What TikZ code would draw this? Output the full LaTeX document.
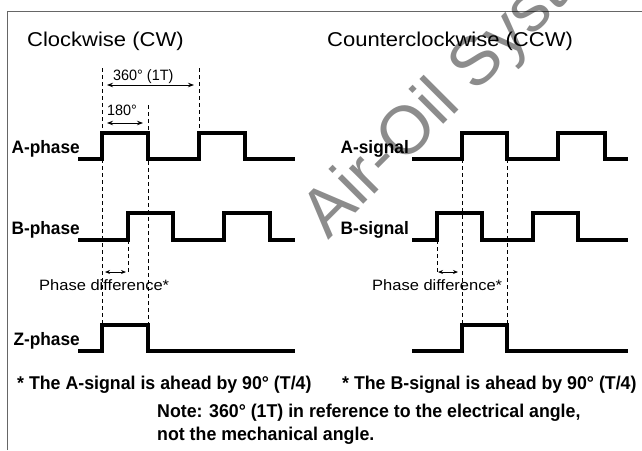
\documentclass[tikz,border=0pt]{standalone}
\usepackage{fontspec}
\setmainfont{Liberation Sans}
\newfontfamily\headfont[FakeStretch=1.1]{Liberation Sans}
\newfontfamily\condfont[FakeStretch=0.96]{Liberation Sans}
\usetikzlibrary{arrows.meta,positioning}

\begin{document}
\begin{tikzpicture}[x=1pt, y=-1pt, >={Stealth[length=6pt,width=4.5pt]},
    wave/.style={line width=4pt, line join=miter},
    guide/.style={line width=0.9pt, dash pattern=on 4pt off 3pt},
    dim/.style={<->, line width=0.9pt},
    heading/.style={inner sep=0pt, anchor=base west, font=\headfont\fontsize{20}{24}\selectfont},
    sig/.style={inner sep=0pt, anchor=base east, font=\condfont\bfseries\fontsize{18}{22}\selectfont},
    angle/.style={inner sep=0pt, anchor=base west, font=\condfont\fontsize{15}{18}\selectfont},
    diff/.style={inner sep=0pt, anchor=base west, font=\headfont\fontsize{15}{18}\selectfont},
    foot/.style={inner sep=0pt, anchor=base west, font=\condfont\bfseries\fontsize{18.5}{22}\selectfont}]
    \useasboundingbox (0,0) rectangle (642,450);
    \draw[black!60, line width=1.4pt] (7.5,450) -- (7.5,11.5) -- (642,11.5);

    % titles
    \node[heading] (cw) at (27,46) {Clockwise (CW)};
    \node[heading] (ccw) at (327,46) {Counterclockwise (CCW)};

    % signal names
    \node[sig] (aphase) at (80,153) {A-phase};
    \node[sig] (bphase) at (80,234) {B-phase};
    \node[sig] (zphase) at (80,345) {Z-phase};
    \node[sig] (asig) at (409,153) {A-signal};
    \node[sig] (bsig) at (409,234) {B-signal};

    % clockwise pulses
    \draw[wave] (78,159) -- (102,159) -- (102,133) -- (148,133) -- (148,159) -- (199,159)
        -- (199,133) -- (245,133) -- (245,159) -- (295,159);
    \draw[wave] (78,240) -- (128,240) -- (128,213) -- (173,213) -- (173,240) -- (224,240)
        -- (224,213) -- (270,213) -- (270,240) -- (295,240);
    \draw[wave] (78,351) -- (102,351) -- (102,325) -- (148,325) -- (148,351) -- (295,351);

    % counterclockwise pulses
    \draw[wave] (412,159) -- (462,159) -- (462,133) -- (507,133) -- (507,159) -- (558,159)
        -- (558,133) -- (605,133) -- (605,159) -- (628,159);
    \draw[wave] (412,240) -- (437,240) -- (437,213) -- (482,213) -- (482,240) -- (533,240)
        -- (533,213) -- (578,213) -- (578,240) -- (628,240);
    \draw[wave] (412,351) -- (462,351) -- (462,325) -- (507,325) -- (507,351) -- (628,351);

    % guides
    \draw[guide] (102,68) -- (102,325);
    \draw[guide] (148,105) -- (148,325);
    \draw[guide] (199,68) -- (199,133);
    \draw[guide] (128,240) -- (128,273);
    \draw[guide] (462,159) -- (462,325);
    \draw[guide] (507,159) -- (507,325);
    \draw[guide] (437,240) -- (437,273);

    % angles
    \node[angle] (full) at (113,80) {360° (1T)};
    \node[angle] (half) at (107,115) {180°};
    \coordinate (f1) at (107,85);
    \coordinate (f2) at (194,85);
    \coordinate (h1) at (107,123);
    \coordinate (h2) at (143,123);
    \draw[dim] (f1) -- (f2);
    \draw[dim] (h1) -- (h2);

    % phase difference
    \coordinate (d1) at (105,272);
    \coordinate (d2) at (126,272);
    \coordinate (e1) at (438,272);
    \coordinate (e2) at (458,272);
    \draw[dim, >={Stealth[length=5pt,width=4pt]}] (d1) -- (d2);
    \draw[dim, >={Stealth[length=5pt,width=4pt]}] (e1) -- (e2);
    \node[diff] (cwdiff) at (39,290) {Phase difference*};
    \node[diff] (ccwdiff) at (372,290) {Phase difference*};

    % notes
    \node[foot] (footA) at (17,389) {* The A-signal is ahead by 90° (T/4)};
    \node[foot] (footB) at (342,389) {* The B-signal is ahead by 90° (T/4)};
    \node[foot] (note1) at (157,417) {Note: 360° (1T) in reference to the electrical angle,};
    \node[foot] (note2) at (157,440) {not the mechanical angle.};

    \node[rotate=45, opacity=0.45, font=\fontsize{68}{72}\selectfont] (mark) at (482,62) {Air-Oil Systems};
\end{tikzpicture}
\end{document}
